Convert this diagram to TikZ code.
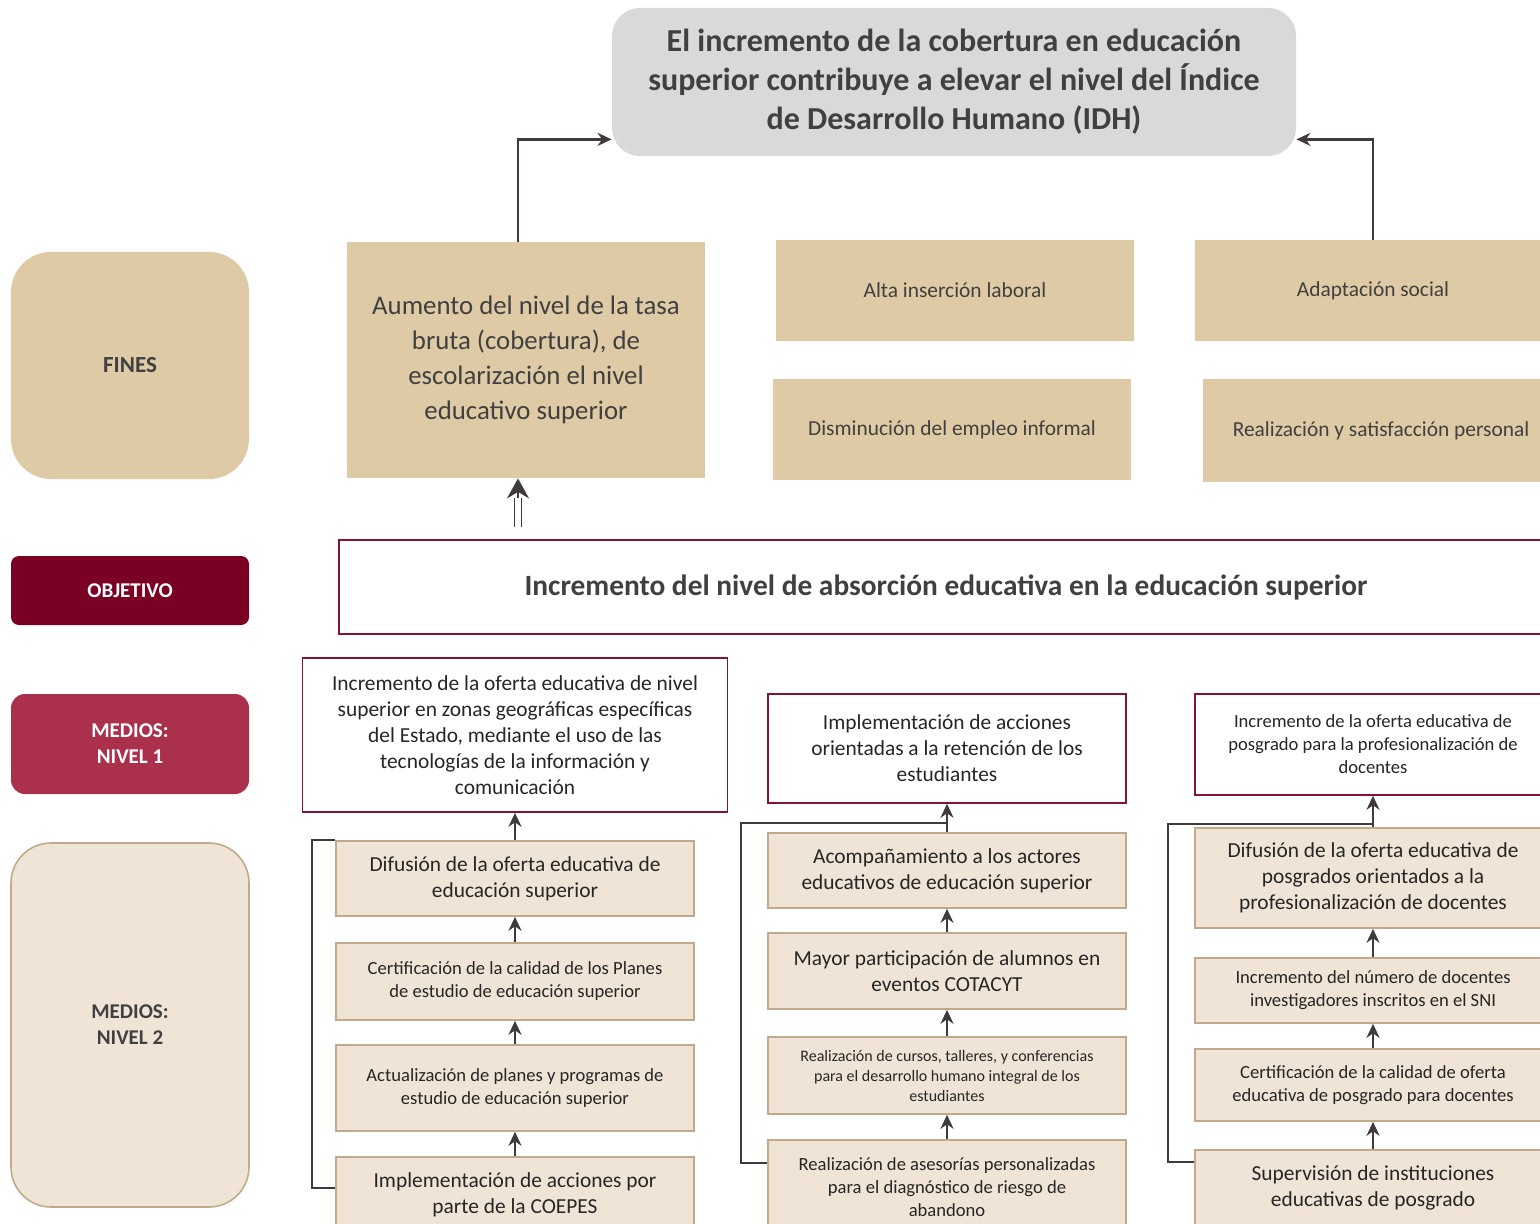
\documentclass[tikz,border=0pt]{standalone}
\usepackage{fontspec}
\setmainfont{Carlito}
\usepackage{tikz}
\usetikzlibrary{positioning,calc,arrows.meta}
\definecolor{TextGray}{RGB}{64,64,64}
\definecolor{LineGray}{RGB}{64,58,60}
\definecolor{TitleGray}{RGB}{217,217,217}
\definecolor{Sand}{RGB}{222,202,164}
\definecolor{Cream}{RGB}{239,228,214}
\definecolor{CreamEdge}{RGB}{192,170,138}
\definecolor{Wine}{RGB}{122,0,36}
\definecolor{Rose}{RGB}{170,48,76}
\definecolor{WineEdge}{RGB}{135,18,50}
\tikzset{%
  titlebox/.style={%
    fill=TitleGray, rounded corners=14pt, minimum width=342pt,
    minimum height=74pt, align=center, text=TextGray,
    font=\fontsize{16}{19.5}\selectfont\bfseries
  },
  sidebox/.style={%
    minimum width=119pt, align=center, text=TextGray,
    font=\fontsize{10.5}{13}\selectfont\bfseries
  },
  finbox/.style={%
    fill=Sand, minimum width=179pt, align=center, text=TextGray,
    font=\fontsize{10.7}{13}\selectfont
  },
  objbox/.style={%
    draw=WineEdge, line width=0.8pt, minimum width=607pt,
    minimum height=47pt, text=TextGray,
    font=\fontsize{14.7}{17}\selectfont\bfseries
  },
  medbox/.style={%
    draw=WineEdge, line width=0.8pt, fill=white, minimum width=179pt,
    align=center, text=black!85, font=\fontsize{10.7}{13}\selectfont
  },
  actbox/.style={%
    draw=CreamEdge, line width=0.8pt, fill=Cream, minimum width=179pt,
    align=center, text=black!85, font=\fontsize{10.7}{13}\selectfont
  },
  smalltext/.style={font=\fontsize{9.3}{11.5}\selectfont},
  tinytext/.style={font=\fontsize{8}{10}\selectfont},
  arrow/.style={LineGray, line width=1.2pt, -{Stealth[length=7pt,width=6.5pt]}},
  link/.style={LineGray, line width=1.2pt},
  dblshaft/.style={LineGray, double, double distance=2.6pt, line width=0.9pt},
  dblhead/.style={LineGray, line width=1.2pt, -{Stealth[length=10pt,width=11pt]}},
}

\begin{document}
\begin{tikzpicture}[x=0.5pt, y=-0.5pt]
        \useasboundingbox (0,0) rectangle (1540,1224);
        \clip (0,0) rectangle (1540,1224);

        % titulo
        \node (TITLE)[titlebox] at (954,82) {El incremento de la cobertura en educación\\superior contribuye a elevar el nivel del Índice\\de Desarrollo Humano (IDH)};

        % etiquetas
        \node (FINES)[sidebox, fill=Sand, minimum height=113.5pt, rounded corners=20pt, font=\fontsize{11.5}{13}\selectfont\bfseries] at (130,365.5) {FINES};
        \node (OBJETIVO)[sidebox, fill=Wine, text=white, minimum height=34.5pt, rounded corners=4pt] at (130,590.5) {OBJETIVO};
        \node (MEDIOSUNO)[sidebox, fill=Rose, text=white, minimum height=50pt, rounded corners=7pt] at (130,744) {MEDIOS:\\NIVEL 1};
        \node (MEDIOSDOS)[sidebox, fill=Cream, draw=CreamEdge, line width=0.8pt, minimum height=182pt, rounded corners=20pt] at (130,1025) {MEDIOS:\\NIVEL 2};

        % fines
        \node (AUMENTO)[finbox, minimum height=118pt, font=\fontsize{13.4}{17.5}\selectfont] at (526,360) {Aumento del nivel de la tasa\\bruta (cobertura), de\\escolarización el nivel\\educativo superior};
        \node (INSERCION)[finbox, minimum height=50.5pt] at (955,290.5) {Alta inserción laboral};
        \node (ADAPTACION)[finbox, minimum width=178pt, minimum height=50.5pt] at (1373,290.5) {Adaptación social};
        \node (EMPLEO)[finbox, minimum height=50.5pt] at (952,429.5) {Disminución del empleo informal};
        \node (REALIZACION)[finbox, minimum width=178pt, minimum height=51.5pt] at (1381,430.5) {Realización y satisfacción personal};

        % objetivo
        \node (OBJ)[objbox] at (946,587) {Incremento del nivel de absorción educativa en la educación superior};

        % medios nivel 1
        \node (OFERTA)[medbox, minimum width=212.5pt, minimum height=77pt] at (515,735) {Incremento de la oferta educativa de nivel\\superior en zonas geográficas específicas\\del Estado, mediante el uso de las\\tecnologías de la información y\\comunicación};
        \node (RETENCION)[medbox, minimum height=54.5pt] at (947,748.5) {Implementación de acciones\\orientadas a la retención de los\\estudiantes};
        \node (POSGRADO)[medbox, smalltext, minimum width=178pt, minimum height=50.5pt] at (1373,744.5) {Incremento de la oferta educativa de\\posgrado para la profesionalización de\\docentes};

        % medios nivel 2
        \node (DIFUSION)[actbox, minimum height=37.5pt] at (515,878.5) {Difusión de la oferta educativa de\\educación superior};
        \node (CERTIFICACION)[actbox, smalltext, minimum height=38.5pt] at (515,981.5) {Certificación de la calidad de los Planes\\de estudio de educación superior};
        \node (PLANES)[actbox, smalltext, minimum height=43pt] at (515,1088) {Actualización de planes y programas de\\estudio de educación superior};
        \node (COEPES)[actbox, minimum height=38pt] at (515,1195) {Implementación de acciones por\\parte de la COEPES};

        \node (ACOMPANA)[actbox, minimum height=37.5pt] at (947,870.5) {Acompañamiento a los actores\\educativos de educación superior};
        \node (COTACYT)[actbox, minimum height=38pt] at (947,971) {Mayor participación de alumnos en\\eventos COTACYT};
        \node (CURSOS)[actbox, tinytext, minimum height=38.5pt] at (947,1075.5) {Realización de cursos, talleres, y conferencias\\para el desarrollo humano integral de los\\estudiantes};
        \node (ASESORIA)[actbox, smalltext, minimum height=47pt] at (947,1187) {Realización de asesorías personalizadas\\para el diagnóstico de riesgo de\\abandono};

        \node (DIFPOS)[actbox, minimum width=178pt, minimum height=50pt] at (1373,878) {Difusión de la oferta educativa de\\posgrados orientados a la\\profesionalización de docentes};
        \node (SNI)[actbox, smalltext, minimum width=178pt, minimum height=32.5pt] at (1373,990.5) {Incremento del número de docentes\\investigadores inscritos en el SNI};
        \node (CERTPOS)[actbox, smalltext, minimum width=178pt, minimum height=36pt] at (1373,1085) {Certificación de la calidad de oferta\\educativa de posgrado para docentes};
        \node (SUPERVISION)[actbox, minimum width=178pt, minimum height=38pt] at (1373,1188) {Supervisión de instituciones\\educativas de posgrado};

        % conexiones
        \draw[arrow] ([xshift=-4pt]AUMENTO.north) |- ([yshift=8.5pt]TITLE.south west);
        \draw[arrow] (ADAPTACION.north) |- ([yshift=8.5pt]TITLE.south east);
        \coordinate (BASE) at ([xshift=-4pt,yshift=6pt]AUMENTO.south |- OBJ.north);
        \coordinate (NECK) at ([xshift=-4pt,yshift=-10pt]AUMENTO.south);
        \draw[dblshaft] (BASE) -- (NECK);
        \draw[dblhead] (NECK) -- ([xshift=-4pt]AUMENTO.south);

        \path[arrow]
            (DIFUSION) edge (OFERTA)
            (CERTIFICACION) edge (DIFUSION)
            (PLANES) edge (CERTIFICACION)
            (COEPES) edge (PLANES)
            (ACOMPANA) edge (RETENCION)
            (COTACYT) edge (ACOMPANA)
            (CURSOS) edge (COTACYT)
            (ASESORIA) edge (CURSOS)
            (DIFPOS) edge (POSGRADO)
            (SNI) edge (DIFPOS)
            (CERTPOS) edge (SNI)
            (SUPERVISION) edge (CERTPOS)
        ;

        \coordinate (JOINB) at ($(ACOMPANA.north)+(0,-9)$);
        \coordinate (JOINC) at ($(DIFPOS.north)+(0,-3)$);
        \draw[link] ([yshift=3.5pt]COEPES.west) -- ++(-23,0) |- (DIFUSION.north west);
        \draw[link] ([yshift=12pt]ASESORIA.west) -- ++(-26,0) |- (JOINB);
        \draw[link] ([yshift=13pt]SUPERVISION.west) -- ++(-26,0) |- (JOINC);
    \end{tikzpicture}
\end{document}
